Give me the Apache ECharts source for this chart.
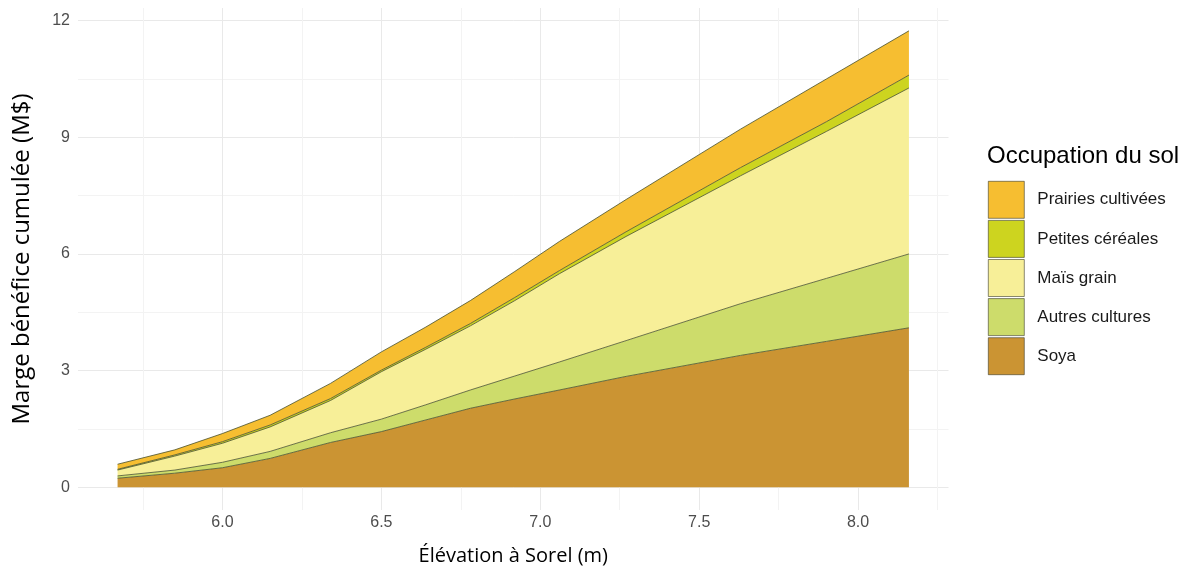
<!DOCTYPE html>
<html>
<head>
<meta charset="utf-8">
<script src="https://cdn.jsdelivr.net/npm/echarts@6/dist/echarts.min.js"></script>
<style>html,body{margin:0;padding:0;background:#fff;}#c{width:1192px;height:571px;}</style>
</head>
<body>
<div id="c"></div>
<script>
// Elevation at Sorel (m)
const elevation = [5.67, 5.85, 6.0, 6.15, 6.34, 6.5, 6.64, 6.78, 6.92, 7.06, 7.27, 7.63, 7.9, 8.16];
// Cumulative margin contributions (M$) per land use
const soya      = [0.23, 0.36, 0.50, 0.74, 1.15, 1.43, 1.73, 2.03, 2.27, 2.50, 2.85, 3.39, 3.75, 4.10];
const autres    = [0.06, 0.08, 0.14, 0.18, 0.25, 0.32, 0.39, 0.47, 0.59, 0.72, 0.92, 1.33, 1.62, 1.90];
const mais      = [0.15, 0.36, 0.49, 0.63, 0.83, 1.22, 1.43, 1.65, 1.94, 2.27, 2.68, 3.29, 3.78, 4.27];
const petites   = [0.02, 0.03, 0.04, 0.05, 0.05, 0.04, 0.05, 0.06, 0.08, 0.08, 0.12, 0.21, 0.25, 0.33];
const prairies  = [0.13, 0.13, 0.21, 0.25, 0.39, 0.47, 0.52, 0.59, 0.67, 0.75, 0.83, 0.99, 1.10, 1.14];

const xTicks = [6.0, 6.5, 7.0, 7.5, 8.0];
const xGrid = [5.75, 6.0, 6.25, 6.5, 6.75, 7.0, 7.25, 7.5, 7.75, 8.0, 8.25];
const yTicks = [0, 3, 6, 9, 12];
const yGrid = [0, 1.5, 3, 4.5, 6, 7.5, 9, 10.5, 12];

const names = ['Soya', 'Autres cultures', 'Maïs grain', 'Petites céréales', 'Prairies cultivées'];
const values = [soya, autres, mais, petites, prairies];
const colors = ['#CB9433', '#CDDC6B', '#F7EF98', '#CDD41F', '#F6BE31'];

const chart = echarts.init(document.getElementById('c'), null, {renderer: 'canvas'});

// value first so that the library stacks on the y dimension
const series = names.map((n, i) => ({
  name: n,
  type: 'line',
  stack: 'total',
  symbol: 'none',
  smooth: false,
  encode: {x: 1, y: 0},
  data: elevation.map((x, j) => [values[i][j], x]),
  lineStyle: {width: 0.8, color: '#48502f'},
  areaStyle: {color: colors[i], opacity: 1},
  itemStyle: {color: colors[i], borderColor: '#333', borderWidth: 0.6},
  emphasis: {disabled: true}
}));

const xMin = 5.5455, xMax = 8.2845, yMin = -0.587, yMax = 12.327;
const labelFont = {fontFamily: 'Liberation Sans', fontSize: 16, color: '#4d4d4d'};

chart.setOption({
  animation: false,
  backgroundColor: '#ffffff',
  grid: {left: 78, right: 243.5, top: 8, bottom: 59, containLabel: false},
  xAxis: [{
    type: 'value', min: xMin, max: xMax,
    name: 'Élévation à Sorel (m)', nameLocation: 'middle', nameGap: 36,
    nameTextStyle: {fontFamily: 'Open Sans', fontSize: 20, color: '#000'},
    axisLine: {show: false}, axisTick: {show: false, customValues: xTicks},
    axisLabel: Object.assign({customValues: xTicks, margin: 5, formatter: v => v.toFixed(1)}, labelFont),
    splitLine: {show: false}
  }, {
    type: 'value', min: xMin, max: xMax, position: 'bottom',
    axisLine: {show: false}, axisTick: {show: false, customValues: xGrid},
    axisLabel: {show: false, customValues: xGrid},
    splitLine: {show: true, lineStyle: {color: ['#f3f3f3', '#e9e9e9'], width: 1}}
  }],
  yAxis: [{
    type: 'value', min: yMin, max: yMax,
    name: 'Marge bénéfice cumulée (M$)', nameLocation: 'middle', nameGap: 44, nameRotate: 90,
    nameTextStyle: {fontFamily: 'Open Sans', fontSize: 24, color: '#000'},
    axisLine: {show: false}, axisTick: {show: false, customValues: yTicks},
    axisLabel: Object.assign({customValues: yTicks, margin: 8}, labelFont),
    splitLine: {show: false}
  }, {
    type: 'value', min: yMin, max: yMax, position: 'left',
    axisLine: {show: false}, axisTick: {show: false, customValues: yGrid},
    axisLabel: {show: false, customValues: yGrid},
    splitLine: {show: true, lineStyle: {color: ['#e9e9e9', '#f3f3f3'], width: 1}}
  }],
  legend: {
    orient: 'vertical',
    left: 983, top: 176,
    data: names.slice().reverse(),
    icon: 'rect',
    itemWidth: 36, itemHeight: 37, itemGap: 1.5,
    textStyle: {fontFamily: 'Liberation Sans', fontSize: 17, color: '#1a1a1a', padding: [0, 0, 0, 8]},
    itemStyle: {borderColor: '#3a3a2a', borderWidth: 0.6},
    selectedMode: false
  },
  graphic: [{
    type: 'text', left: 987, top: 144,
    style: {text: 'Occupation du sol', font: '24px "Liberation Sans"', fill: '#000'}
  }],
  series: series
});
</script>
</body>
</html>
